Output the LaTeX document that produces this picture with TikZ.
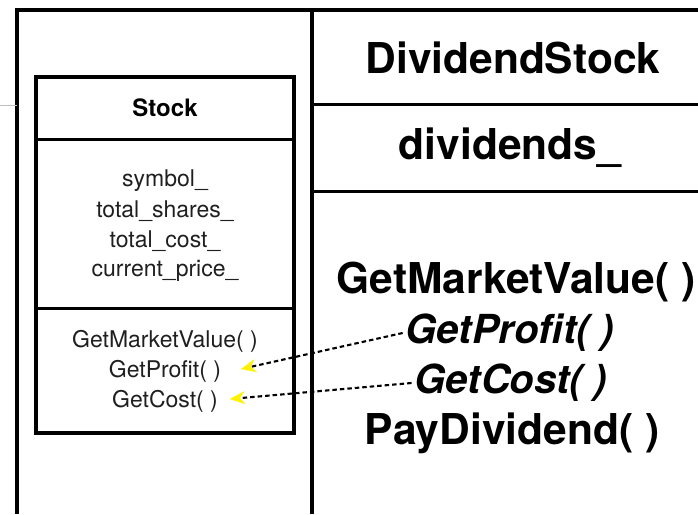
\documentclass[tikz,border=0pt]{standalone}
\usepackage{fontspec}
\setmainfont{TeX Gyre Heros}
\usetikzlibrary{arrows.meta}
\begin{document}
\begin{tikzpicture}[x=1pt,y=-1pt,
  frame/.style={line width=3.5pt},
  divider/.style={line width=3pt},
  big/.style={font=\fontsize{42.5}{48}\selectfont\bfseries, inner sep=0pt},
  bigit/.style={font=\fontsize{40}{48}\selectfont\bfseries\itshape, inner sep=3pt},
  small/.style={font=\fontsize{23}{28}\selectfont, inner sep=0pt, text=black!88},
  smallb/.style={font=\fontsize{24}{28}\selectfont\bfseries, inner sep=0pt},
  link/.style={line width=2.1pt, dash pattern=on 4.5pt off 3pt,
    -{Stealth[length=15pt,width=13pt,inset=5pt,color=yellow,fill=yellow,line width=0.1pt]}}
]
\useasboundingbox (0,0) rectangle (698,514);
% outer frame
\draw[frame] (17,514) -- (17,10) -- (698,10);
\draw[frame] (312,10) -- (312,514);
\draw[divider] (312,104) -- (698,104);
\draw[divider] (312,191) -- (698,191);
\draw[black!25, line width=0.8pt] (0,105) -- (17,105);
% Stock class box
\draw[frame] (36,77) rectangle (294,433);
\draw[divider] (36,139) -- (294,139);
\draw[divider] (36,308) -- (294,308);
\node[smallb] (stock) at (165,108) {Stock};
\node[small] (a1) at (165,181) {symbol\_};
\node[small] (a2) at (165,211) {total\_shares\_};
\node[small] (a3) at (165,241) {total\_cost\_};
\node[small] (a4) at (165,271) {current\_price\_};
\node[small] (m1) at (165,341) {GetMarketValue( )};
\node[small] (m2) at (165,371) {GetProfit( )};
\node[small] (m3) at (165,401) {GetCost( )};
% DividendStock column
\node[big] (ds) at (513,58) {DividendStock};
\node[big] (dv) at (510,148) {dividends\_};
\node[big] (bm) at (516,282) {GetMarketValue( )};
\node[bigit] (bp) at (510,333) {GetProfit( )};
\node[bigit] (bc) at (511,383) {GetCost( )};
\node[big] (pd) at (512,433) {PayDividend( )};
% connectors
\coordinate (t1) at (241,369);
\coordinate (t2) at (230,399);
\draw[link] (bp.west) -- (t1);
\draw[link] (bc.west) -- (t2);
\end{tikzpicture}
\end{document}
